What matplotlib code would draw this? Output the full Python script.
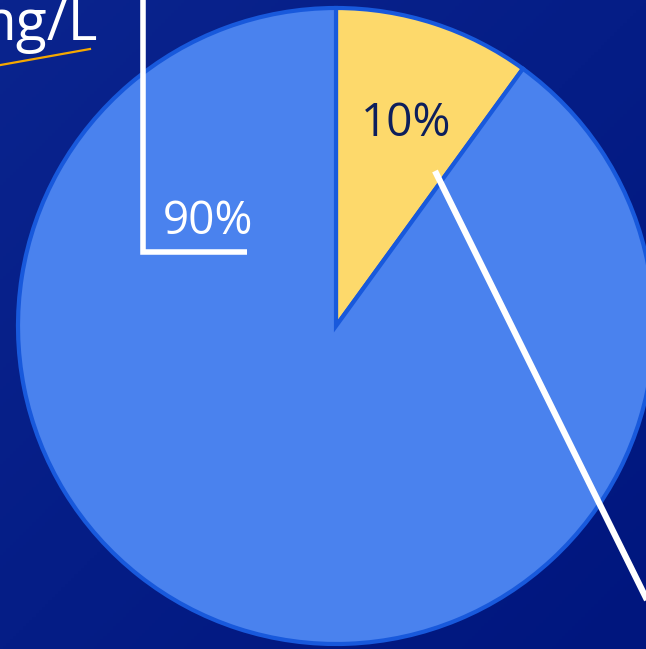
import numpy as np
import matplotlib.pyplot as plt

# share of samples
categories = ["above", "below"]
values = [10, 90]
unit_text = "mg/L"

W, H = 646, 649
fig = plt.figure(figsize=(W / 100, H / 100), dpi=100)
ax = fig.add_axes([0, 0, 1, 1])
ax.set_xlim(0, W)
ax.set_ylim(0, H)
ax.axis('off')

# dark blue background with a soft diagonal gradient
yy, xx = np.mgrid[0:1:200j, 0:1:200j]
grad = (xx - yy) * 0.5 + 0.5
c0 = np.array([0x0a, 0x24, 0x8e]) / 255
c1 = np.array([0x00, 0x16, 0x7e]) / 255
bg = c0[None, None, :] * (1 - grad[..., None]) + c1[None, None, :] * grad[..., None]
ax.imshow(bg, extent=[0, W, 0, H], origin='lower', zorder=0, aspect='auto')


def py(y):  # pixel row -> data y
    return H - y


cx, cy, r = 336, py(326), 318
wedges, _ = ax.pie(values, colors=['#fdd96b', '#4a82ee'], startangle=90, counterclock=False,
                   center=(cx, cy), radius=r, frame=True,
                   wedgeprops=dict(edgecolor='#1859dc', linewidth=3))
for w in wedges:
    w.set_zorder(2)
ax.set_xlim(0, W)
ax.set_ylim(0, H)
ax.set_aspect('equal')
ax.axis('off')

# labels
ax.text(406, py(124), f"{values[0]}%", color='#0d1f5c', fontsize=33, family='Open Sans',
        ha='center', va='center', zorder=4)
ax.text(208, py(222), f"{values[1]}%", color='white', fontsize=33, family='Open Sans',
        ha='center', va='center', zorder=4)

# leader lines
ax.plot([143, 143, 247], [py(-5), py(252), py(252)], color='white', lw=4, solid_joinstyle='miter',
        solid_capstyle='butt', zorder=3)
ax.plot([435, 650], [py(171), py(606)], color='white', lw=4.5, solid_capstyle='butt', zorder=3)

# unit text with underline
ax.text(98, py(40), unit_text, color='white', fontsize=41, family='Open Sans',
        ha='right', va='baseline', zorder=4)
ax.plot([-5, 90], [py(66), py(49)], color='#f5a800', lw=1.6, zorder=4)

fig.savefig('out.png', dpi=100, facecolor='#04198a')
